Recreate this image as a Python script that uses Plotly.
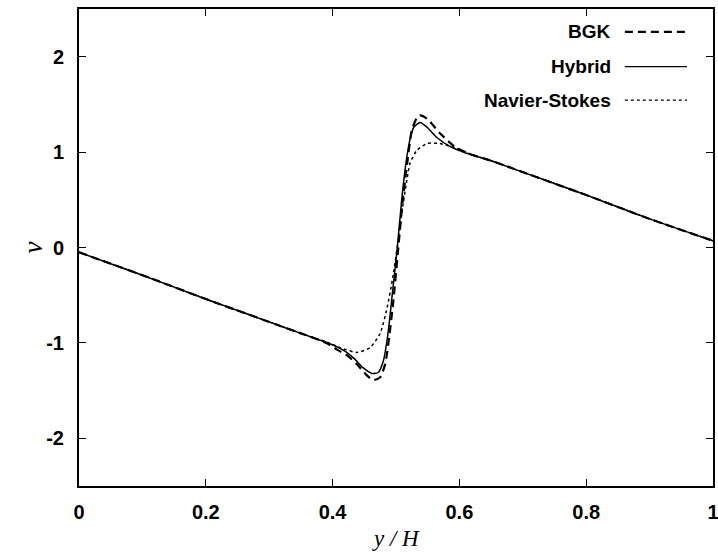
import plotly.graph_objects as go

# Data (x = y/H, v)
x_bgk = [0, 0.1, 0.2, 0.3, 0.35, 0.39, 0.407, 0.425, 0.438, 0.454, 0.464, 0.475, 0.483,
         0.489, 0.496, 0.503, 0.51, 0.518, 0.525, 0.533, 0.538, 0.549, 0.569, 0.59, 0.612,
         0.65, 0.7, 0.8, 0.9, 1.0]
v_bgk = [-0.05, -0.29, -0.54, -0.78, -0.90, -1.00, -1.07, -1.14, -1.22, -1.34, -1.39, -1.36, -1.22,
         -0.95, -0.55, -0.05, 0.45, 0.90, 1.23, 1.36, 1.385, 1.35, 1.20, 1.07, 0.99,
         0.91, 0.79, 0.55, 0.30, 0.07]

x_hyb = [0, 0.1, 0.2, 0.3, 0.35, 0.40, 0.42, 0.435, 0.448, 0.462, 0.472, 0.48, 0.487,
         0.494, 0.502, 0.509, 0.516, 0.522, 0.528, 0.538, 0.549, 0.565, 0.585, 0.61,
         0.65, 0.7, 0.8, 0.9, 1.0]
v_hyb = [-0.05, -0.29, -0.54, -0.78, -0.90, -1.02, -1.09, -1.17, -1.26, -1.32, -1.31, -1.19, -0.92,
         -0.50, 0.0, 0.50, 0.90, 1.13, 1.26, 1.31, 1.26, 1.15, 1.06, 0.99,
         0.91, 0.79, 0.55, 0.30, 0.07]

x_ns = [0, 0.1, 0.2, 0.3, 0.35, 0.39, 0.412, 0.4385, 0.459, 0.475, 0.486, 0.494, 0.502,
        0.509, 0.517, 0.522, 0.533, 0.549, 0.569, 0.596, 0.621, 0.65, 0.7, 0.8, 0.9, 1.0]
v_ns = [-0.05, -0.29, -0.54, -0.78, -0.90, -0.99, -1.05, -1.10, -1.05, -0.90, -0.63, -0.35, 0.0,
        0.36, 0.70, 0.88, 1.02, 1.09, 1.09, 1.04, 0.97, 0.91, 0.79, 0.55, 0.30, 0.07]

x_ticks = [0, 0.2, 0.4, 0.6, 0.8, 1]
x_ticklabels = ["0", "0.2", "0.4", "0.6", "0.8", "1"]
y_ticks = [-2, -1, 0, 1, 2]
y_ticklabels = ["-2", "-1", "0", "1", "2"]

series_names = ["BGK", "Hybrid", "Navier-Stokes"]

fig = go.Figure()
fig.add_trace(go.Scatter(x=x_ns, y=v_ns, mode="lines", name=series_names[2],
                         line=dict(color="black", width=1.5, dash="dot", shape="spline", smoothing=0.6)))
fig.add_trace(go.Scatter(x=x_hyb, y=v_hyb, mode="lines", name=series_names[1],
                         line=dict(color="black", width=1.5, shape="spline", smoothing=0.6)))
fig.add_trace(go.Scatter(x=x_bgk, y=v_bgk, mode="lines", name=series_names[0],
                         line=dict(color="black", width=2.2, dash="8px,5px", shape="spline", smoothing=0.6)))

tick_font = dict(family="Liberation Sans, Arial, sans-serif", size=20, color="black", weight="bold")
serif = "Liberation Serif, Times New Roman, serif"

fig.update_layout(
    width=718, height=554,
    margin=dict(l=79, r=5, t=9, b=68),
    paper_bgcolor="white", plot_bgcolor="white",
    showlegend=False,
    xaxis=dict(range=[0, 1], tickvals=x_ticks, ticktext=x_ticklabels, automargin=False,
               ticks="inside", ticklen=7, tickwidth=1, tickcolor="black",
               showline=True, linecolor="black", linewidth=2, mirror="ticks",
               showgrid=False, zeroline=False, tickfont=tick_font, ticklabelstandoff=7,
               ticklabeloverflow="allow"),
    yaxis=dict(range=[-2.5, 2.5], tickvals=y_ticks, ticktext=y_ticklabels, automargin=False,
               ticks="inside", ticklen=7, tickwidth=1, tickcolor="black",
               showline=True, linecolor="black", linewidth=2, mirror="ticks",
               showgrid=False, zeroline=False, tickfont=tick_font, ticklabelstandoff=9,
               ticklabeloverflow="allow"),
)

# axis titles
fig.add_annotation(xref="paper", yref="paper", x=0.5, y=-0.111, text="y / H", showarrow=False,
                   xanchor="center", yanchor="middle",
                   font=dict(family=serif, size=23, color="black", style="italic"))
fig.add_annotation(xref="paper", yref="paper", x=-0.074, y=0.5, text="v", showarrow=False,
                   xanchor="center", yanchor="middle", textangle=-90,
                   font=dict(family=serif, size=27, color="black", style="italic"))

# gnuplot-style key: right-aligned text followed by line sample
key_styles = [dict(width=2.2, dash="8px,5px"), dict(width=1.2, dash="solid"), dict(width=1.4, dash="dot")]
key_y = [0.952, 0.879, 0.809]
for name, st, ky in zip(series_names, key_styles, key_y):
    fig.add_annotation(xref="paper", yref="paper", x=0.843, y=ky, text=name, showarrow=False,
                       xanchor="right", yanchor="middle",
                       font=dict(family="Liberation Sans, Arial, sans-serif", size=19,
                                 color="black", weight="bold"))
    fig.add_shape(type="line", xref="paper", yref="paper", x0=0.861, x1=0.959, y0=ky, y1=ky,
                  line=dict(color="black", **st))

fig.write_html("out.html", config={"displayModeBar": False},
               post_script="document.body.style.margin='0';document.body.style.overflow='hidden';")
